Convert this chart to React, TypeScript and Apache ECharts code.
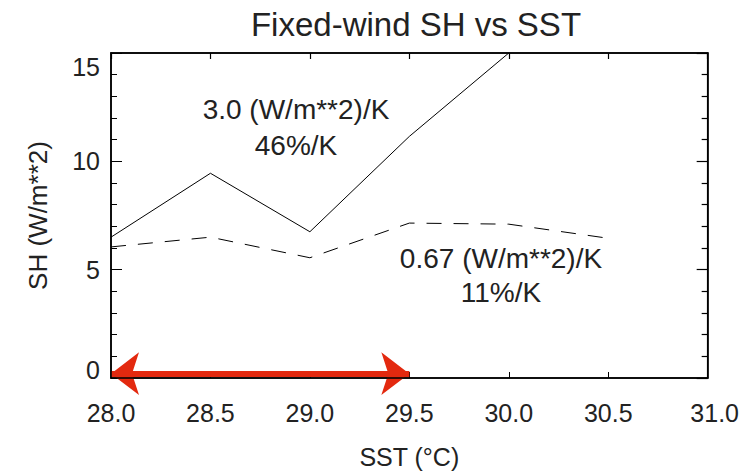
import React, { useEffect, useRef } from "react";
import * as echarts from "echarts";

const title = "Fixed-wind SH vs SST";
const xName = "SST (°C)";
const yName = "SH (W/m**2)";
const sstFull = [28.0, 28.5, 29.0, 29.5, 30.0];
const shFull = [6.5, 9.45, 6.75, 11.15, 15.0];
const sstFixed = [28.0, 28.5, 29.0, 29.5, 30.0, 30.5];
const shFixed = [6.05, 6.5, 5.55, 7.15, 7.1, 6.45];
const arrowRange = [28.0, 29.5];
const arrowY = 0.2;
const noteFull = ["3.0 (W/m**2)/K", "46%/K"];
const noteFixed = ["0.67 (W/m**2)/K", "11%/K"];

const FONT = "'Liberation Sans', Arial, Helvetica, sans-serif";
const TXT = "#222";
const FRAME = { color: "#000", width: 1.5 };

export default function App() {
  const ref = useRef<HTMLDivElement>(null);
  useEffect(() => {
    document.body.style.margin = "0";
    if (!ref.current) return;
    const chart = echarts.init(ref.current, null, { renderer: "svg" });
    const option: any = {
      animation: false,
      backgroundColor: "#fff",
      textStyle: { fontFamily: FONT },
      title: {
        text: title,
        left: 411,
        textAlign: "center",
        top: 3,
        textStyle: { fontFamily: FONT, fontSize: 33, fontWeight: "normal", color: TXT },
      },
      grid: {
        left: 111,
        right: 33,
        top: 53,
        bottom: 97,
        containLabel: false,
        show: true,
        borderColor: "#000",
        borderWidth: 1.5,
        backgroundColor: "rgba(0,0,0,0)",
        z: 10,
      },
      xAxis: [
        {
          type: "value",
          min: 28,
          max: 31,
          interval: 0.5,
          position: "bottom",
          name: xName,
          nameLocation: "middle",
          nameGap: 66,
          nameTextStyle: { fontFamily: FONT, fontSize: 25, color: TXT },
          axisLine: { show: true, lineStyle: FRAME },
          axisTick: { show: true, inside: true, length: 6, lineStyle: { color: "#000", width: 1 } },
          splitLine: { show: false },
          axisLabel: {
            margin: 22,
            fontFamily: FONT,
            fontSize: 25,
            color: TXT,
            hideOverlap: false,
            formatter: (v: number) => (v === 31 ? "{r|" + v.toFixed(1) + "}" : v.toFixed(1)),
            rich: { r: { fontFamily: FONT, fontSize: 25, color: TXT, padding: [0, 0, 0, 14] } },
          },
        },
        {
          type: "value",
          min: 28,
          max: 31,
          interval: 0.5,
          position: "top",
          axisLine: { show: true, onZero: false, lineStyle: FRAME },
          axisTick: { show: true, inside: true, length: 6, lineStyle: { color: "#000", width: 1.2 } },
          axisLabel: { show: false },
          splitLine: { show: false },
        },
      ],
      yAxis: [
        {
          type: "value",
          min: 0,
          max: 15,
          interval: 5,
          position: "left",
          name: yName,
          nameLocation: "middle",
          nameGap: 60,
          nameRotate: 90,
          nameTextStyle: { fontFamily: FONT, fontSize: 26, color: TXT },
          axisLine: { show: true, lineStyle: FRAME },
          axisTick: { show: true, inside: true, length: 11, lineStyle: { color: "#000", width: 1 } },
          minorTick: { show: true, splitNumber: 5, length: 6, lineStyle: { color: "#000", width: 1 } },
          splitLine: { show: false },
          axisLabel: {
            margin: 11,
            fontFamily: FONT,
            fontSize: 25,
            color: TXT,
            formatter: (v: number) =>
              v === 15 ? "{t|15}" : v === 0 ? "{b|0}" : String(v),
            rich: {
              t: { fontFamily: FONT, fontSize: 25, color: TXT, padding: [28, 0, 0, 0] },
              b: { fontFamily: FONT, fontSize: 25, color: TXT, padding: [0, 0, 16, 0] },
            },
          },
        },
        {
          type: "value",
          min: 0,
          max: 15,
          interval: 5,
          position: "right",
          axisLine: { show: true, lineStyle: FRAME },
          axisTick: { show: true, inside: true, length: 11, lineStyle: { color: "#000", width: 1.2 } },
          minorTick: { show: true, splitNumber: 5, length: 6, lineStyle: { color: "#000", width: 1.2 } },
          axisLabel: { show: false },
          splitLine: { show: false },
        },
      ],
      series: [
        {
          type: "line",
          data: sstFull.map((x, i) => [x, shFull[i]]),
          showSymbol: false,
          symbol: "none",
          clip: true,
          lineStyle: { color: "#000", width: 1 },
          z: 3,
        },
        {
          type: "line",
          data: sstFixed.map((x, i) => [x, shFixed[i]]),
          showSymbol: false,
          symbol: "none",
          clip: true,
          lineStyle: { color: "#000", width: 1, type: [15, 12] },
          z: 3,
        },
        {
          type: "line",
          data: [],
          markLine: {
            silent: true,
            symbol: ["arrow", "arrow"],
            symbolSize: [32, 28],
            label: { show: false },
            lineStyle: { color: "#e3290f", width: 6, type: "solid" },
            data: [[{ coord: [arrowRange[0], arrowY] }, { coord: [arrowRange[1], arrowY] }]],
          },
          z: 12,
        },
      ],
      graphic: [
        {
          type: "text",
          x: 296,
          y: 127,
          style: {
            text: noteFull.join("\n"),
            fontFamily: FONT,
            fontSize: 28,
            lineHeight: 36,
            fill: TXT,
            align: "center",
            verticalAlign: "middle",
          },
        },
        {
          type: "text",
          x: 501,
          y: 275,
          style: {
            text: noteFixed.join("\n"),
            fontFamily: FONT,
            fontSize: 28,
            lineHeight: 34,
            fill: TXT,
            align: "center",
            verticalAlign: "middle",
          },
        },
      ],
    };
    chart.setOption(option);
    return () => chart.dispose();
  }, []);
  return <div ref={ref} style={{ width: 742, height: 475 }} />;
}
